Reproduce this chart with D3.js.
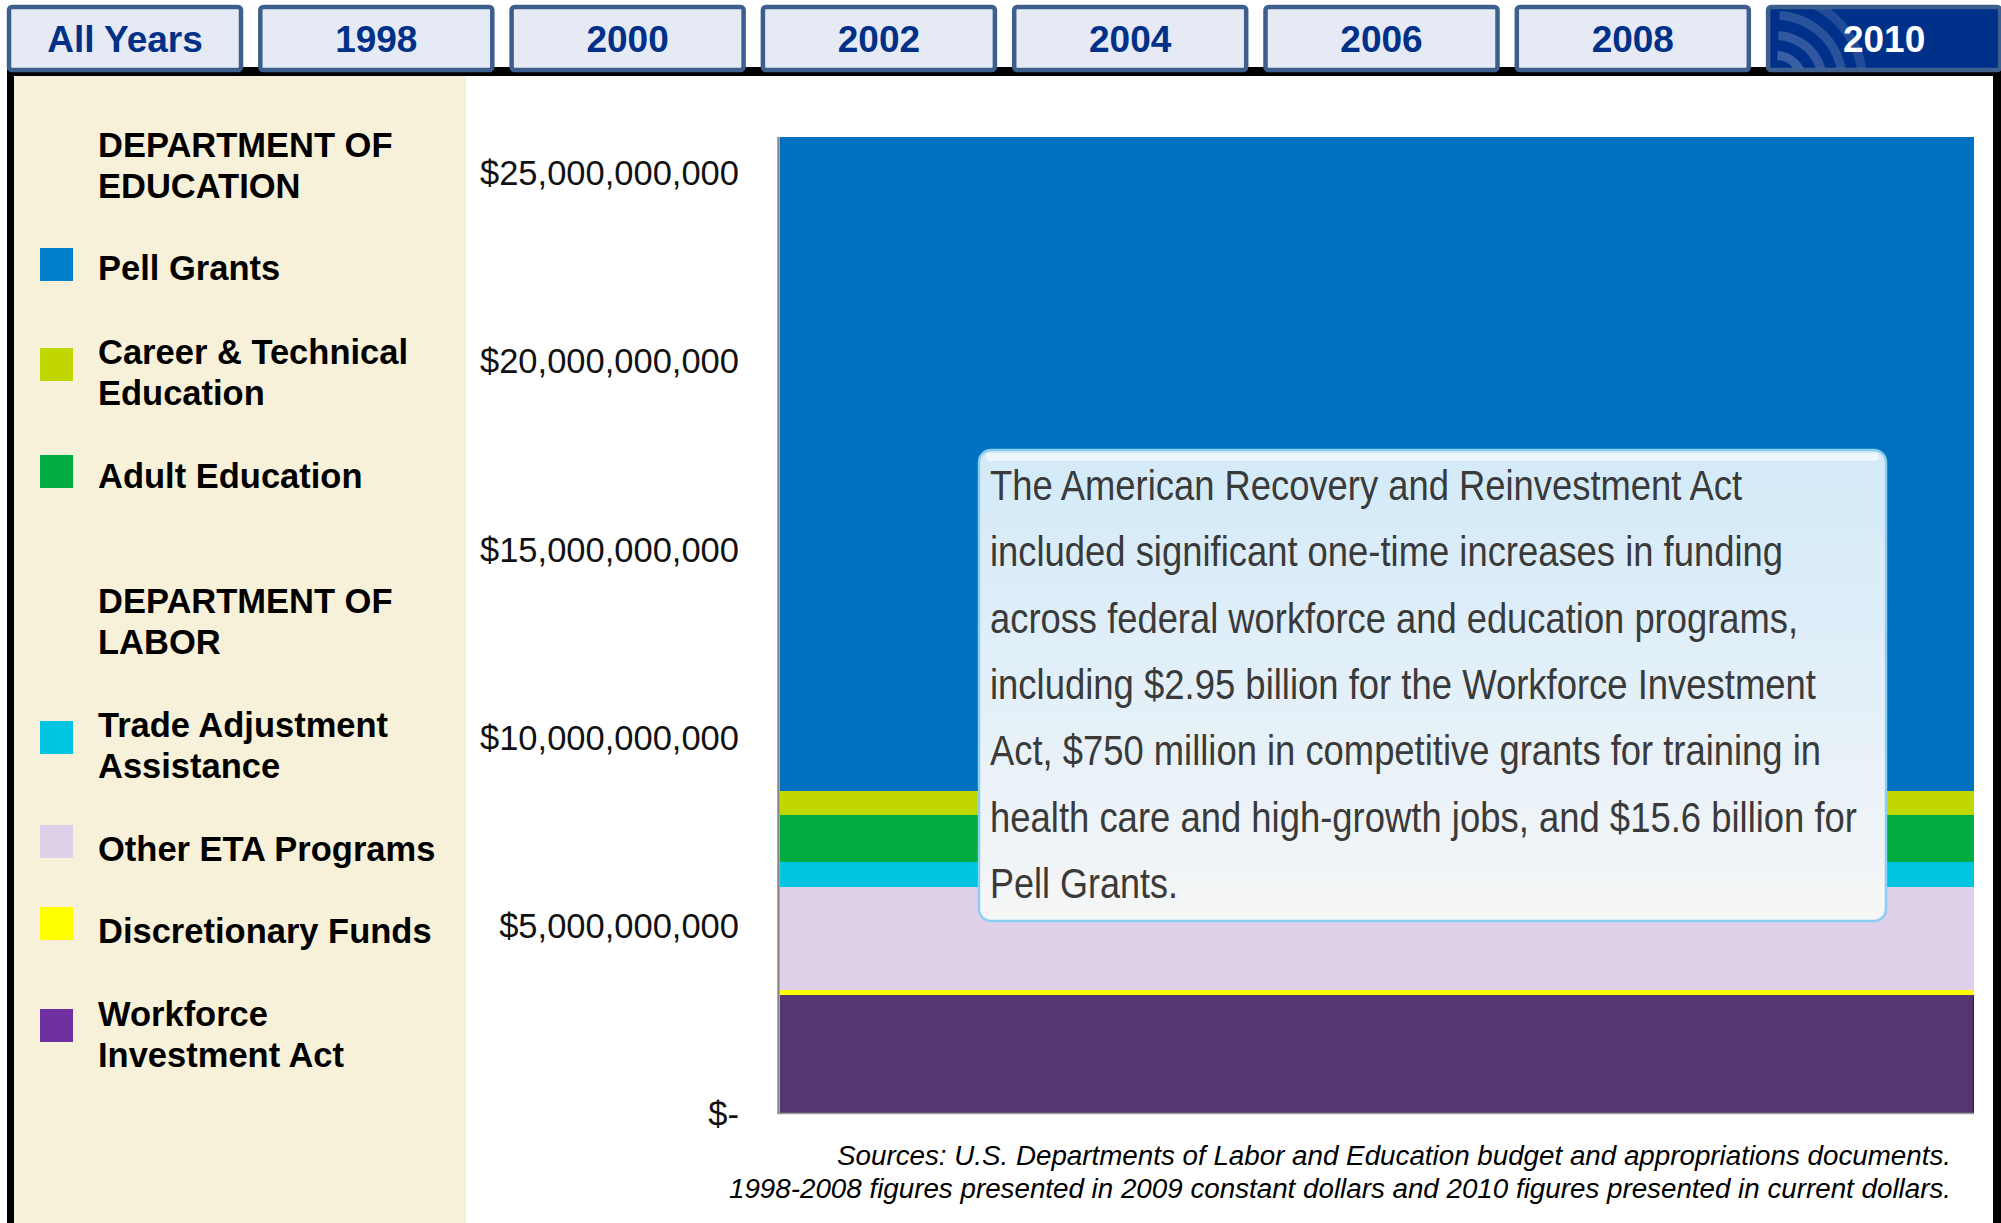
<!DOCTYPE html>
<html>
<head>
<meta charset="utf-8">
<script src="https://cdn.jsdelivr.net/npm/d3@7"></script>
<style>
  html, body { margin: 0; padding: 0; background: #ffffff; }
  svg { display: block; }
</style>
</head>
<body>
<svg id="chart" width="2001" height="1223"></svg>
<script>
// ---------------- DATA ----------------
const tabLabels = ["All Years", "1998", "2000", "2002", "2004", "2006", "2008", "2010"];
const selectedTab = "2010";
const categories = ["2010"];
const seriesNames = ["Workforce Investment Act", "Discretionary Funds", "Other ETA Programs",
  "Trade Adjustment Assistance", "Adult Education", "Career & Technical Education", "Pell Grants"];
const values2010 = [3.13e9, 0.15e9, 2.73e9, 0.66e9, 1.24e9, 0.64e9, 17.39e9];
const barColors = ["#553673", "#ffff00", "#ddd0e8", "#00c4e0", "#00ab40", "#c0d800", "#0071c0"];
const tickValues = [0, 5e9, 10e9, 15e9, 20e9, 25e9];
const tickLabels = ["$-", "$5,000,000,000", "$10,000,000,000", "$15,000,000,000", "$20,000,000,000", "$25,000,000,000"];

const legendHeaders = [["DEPARTMENT OF", "EDUCATION"], ["DEPARTMENT OF", "LABOR"]];
const legendNames = [["Pell Grants"], ["Career & Technical", "Education"], ["Adult Education"],
  ["Trade Adjustment", "Assistance"], ["Other ETA Programs"], ["Discretionary Funds"], ["Workforce", "Investment Act"]];
const legendColors = ["#0080c8", "#c0d800", "#00ab40", "#00c4e0", "#ddd0e8", "#ffff00", "#7030a0"];

const noteLines = [
  "The American Recovery and Reinvestment Act",
  "included significant one-time increases in funding",
  "across federal workforce and education programs,",
  "including $2.95 billion for the Workforce Investment",
  "Act, $750 million in competitive grants for training in",
  "health care and high-growth jobs, and $15.6 billion for",
  "Pell Grants."
];
const noteWidths = [752, 793, 808, 826, 831, 867, 188];
const sourceLines = [
  "Sources: U.S. Departments of Labor and Education budget and appropriations documents.",
  "1998-2008 figures presented in 2009 constant dollars and 2010 figures presented in current dollars."
];
const sourceWidths = [1114, 1222];

// ---------------- DRAW ----------------
const svg = d3.select("#chart");
const defs = svg.append("defs");

// frame: black band + side borders
svg.append("rect").attr("x", 7).attr("y", 67).attr("width", 1994).attr("height", 9).attr("fill", "#000");
svg.append("rect").attr("x", 7).attr("y", 67).attr("width", 7).attr("height", 1156).attr("fill", "#000");
svg.append("rect").attr("x", 1993).attr("y", 67).attr("width", 8).attr("height", 1156).attr("fill", "#000");

// legend panel
svg.append("rect").attr("x", 14).attr("y", 76).attr("width", 452).attr("height", 1147).attr("fill", "#f8f1d9");

// tabs
const tabX = d3.scaleBand().domain(tabLabels).range([7, 7 + 251.3 * 7 + 236])
  .paddingInner(1 - 236 / 251.3).paddingOuter(0);
const tabW = tabX.bandwidth();
const tabs = svg.append("g").selectAll("g").data(tabLabels).join("g");
tabs.append("rect")
  .attr("x", d => tabX(d) + 2).attr("y", 7)
  .attr("width", tabW - 4).attr("height", 63)
  .attr("rx", 3)
  .attr("fill", d => d === selectedTab ? "#00318a" : "#e6eaf4")
  .attr("stroke", "#3d5f8e").attr("stroke-width", 4.5);

// radio-wave decoration on selected tab
const selX = tabX(selectedTab);
defs.append("clipPath").attr("id", "selclip").append("rect")
  .attr("x", selX + 4).attr("y", 9).attr("width", tabW - 8).attr("height", 59);
const waves = svg.append("g").attr("clip-path", "url(#selclip)");
[22, 42, 62, 82].forEach((r, i) => {
  waves.append("path")
    .attr("transform", `translate(${selX + 10},${82})`)
    .attr("d", d3.arc()({innerRadius: r, outerRadius: r + 9, startAngle: 0.05, endAngle: Math.PI / 2 - 0.1}))
    .attr("fill", "#ffffff").attr("opacity", 0.22 - i * 0.03);
});

tabs.append("text")
  .attr("x", d => tabX(d) + tabW / 2).attr("y", 52)
  .attr("text-anchor", "middle")
  .attr("font-family", "'Liberation Sans', Arial, sans-serif")
  .attr("font-weight", "bold").attr("font-size", 37)
  .attr("fill", d => d === selectedTab ? "#ffffff" : "#003087")
  .text(d => d);

// legend
const lg = svg.append("g")
  .attr("font-family", "'Liberation Sans', Arial, sans-serif")
  .attr("font-weight", "bold").attr("font-size", 34.5).attr("fill", "#000");
const headerBaselines = [157, 613];
legendHeaders.forEach((lines, i) => {
  lines.forEach((t, j) => lg.append("text").attr("x", 98).attr("y", headerBaselines[i] + j * 41).text(t));
});
const itemBaselines = [280, 364, 488, 737, 861, 943, 1026];
const swatchTops = [248, 348, 455, 721, 825, 907, 1009];
legendNames.forEach((lines, i) => {
  lg.append("rect").attr("x", 40).attr("y", swatchTops[i]).attr("width", 33).attr("height", 33)
    .attr("fill", legendColors[i]);
  lines.forEach((t, j) => lg.append("text").attr("x", 98).attr("y", itemBaselines[i] + j * 41).text(t));
});

// scales
const plotLeft = 780, plotRight = 1974;
const x = d3.scaleBand().domain(categories).range([plotLeft, plotRight]).padding(0);
const y = d3.scaleLinear().domain([0, 25e9]).range([1113, 172.3]);

// stacked bars
const row = {cat: categories[0]};
seriesNames.forEach((s, i) => row[s] = values2010[i]);
const stack = d3.stack().keys(seriesNames)([row]);
svg.append("g").selectAll("rect").data(stack).join("rect")
  .attr("x", d => x(d[0].data.cat))
  .attr("width", x.bandwidth())
  .attr("y", d => y(d[0][1]))
  .attr("height", d => y(d[0][0]) - y(d[0][1]))
  .attr("fill", (d, i) => barColors[i])
  .attr("shape-rendering", "crispEdges");

// thin dark right edge on the lowest segment
svg.append("line")
  .attr("x1", plotRight - 0.5).attr("x2", plotRight - 0.5)
  .attr("y1", y(stack[0][0][1])).attr("y2", y(0))
  .attr("stroke", "#2a1c3a").attr("stroke-width", 1);

// axis lines (gray)
svg.append("line").attr("x1", 778.5).attr("x2", 778.5)
  .attr("y1", y(stack[stack.length - 1][0][1])).attr("y2", y(0) + 1)
  .attr("stroke", "#888").attr("stroke-width", 2.5);
svg.append("line").attr("x1", 777).attr("x2", plotRight)
  .attr("y1", y(0) + 0.5).attr("y2", y(0) + 0.5)
  .attr("stroke", "#9a9a9a").attr("stroke-width", 1.5);

// y axis labels
const yAxis = d3.axisLeft(y).tickValues(tickValues)
  .tickFormat((d, i) => tickLabels[i]).tickSize(0).tickPadding(0);
const ax = svg.append("g").attr("transform", "translate(739,0)").call(yAxis);
ax.select(".domain").remove();
ax.selectAll("text")
  .attr("font-family", "'Liberation Sans', Arial, sans-serif")
  .attr("font-size", 34.5).attr("fill", "#111").attr("dy", "0.36em");

// note box
const grad = defs.append("linearGradient").attr("id", "noteGrad")
  .attr("x1", 0).attr("y1", 0).attr("x2", 0).attr("y2", 1);
grad.append("stop").attr("offset", "0%").attr("stop-color", "#d3eaf8");
grad.append("stop").attr("offset", "55%").attr("stop-color", "#e4f0f8");
grad.append("stop").attr("offset", "100%").attr("stop-color", "#f6f6f6");
svg.append("rect").attr("x", 979).attr("y", 450).attr("width", 907).attr("height", 471)
  .attr("rx", 12).attr("fill", "url(#noteGrad)")
  .attr("stroke", "#8ecdf3").attr("stroke-width", 2.5);
svg.append("rect").attr("x", 986).attr("y", 453).attr("width", 893).attr("height", 8)
  .attr("rx", 4).attr("fill", "#ffffff").attr("opacity", 0.6);
const note = svg.append("g")
  .attr("font-family", "'Liberation Sans Narrow', 'Arial Narrow', 'Liberation Sans', Arial, sans-serif")
  .attr("font-size", 42).attr("fill", "#3a3a3a");
noteLines.forEach((t, i) => {
  note.append("text").attr("x", 990).attr("y", 500 + i * 66.3)
    .attr("textLength", noteWidths[i]).attr("lengthAdjust", "spacingAndGlyphs")
    .text(t);
});

// sources
const src = svg.append("g")
  .attr("font-family", "'Liberation Sans', Arial, sans-serif")
  .attr("font-style", "italic").attr("font-size", 27).attr("fill", "#000")
  .attr("text-anchor", "end");
sourceLines.forEach((t, i) => {
  src.append("text").attr("x", 1951).attr("y", 1165 + i * 33)
    .attr("textLength", sourceWidths[i]).attr("lengthAdjust", "spacingAndGlyphs")
    .text(t);
});
</script>
</body>
</html>
